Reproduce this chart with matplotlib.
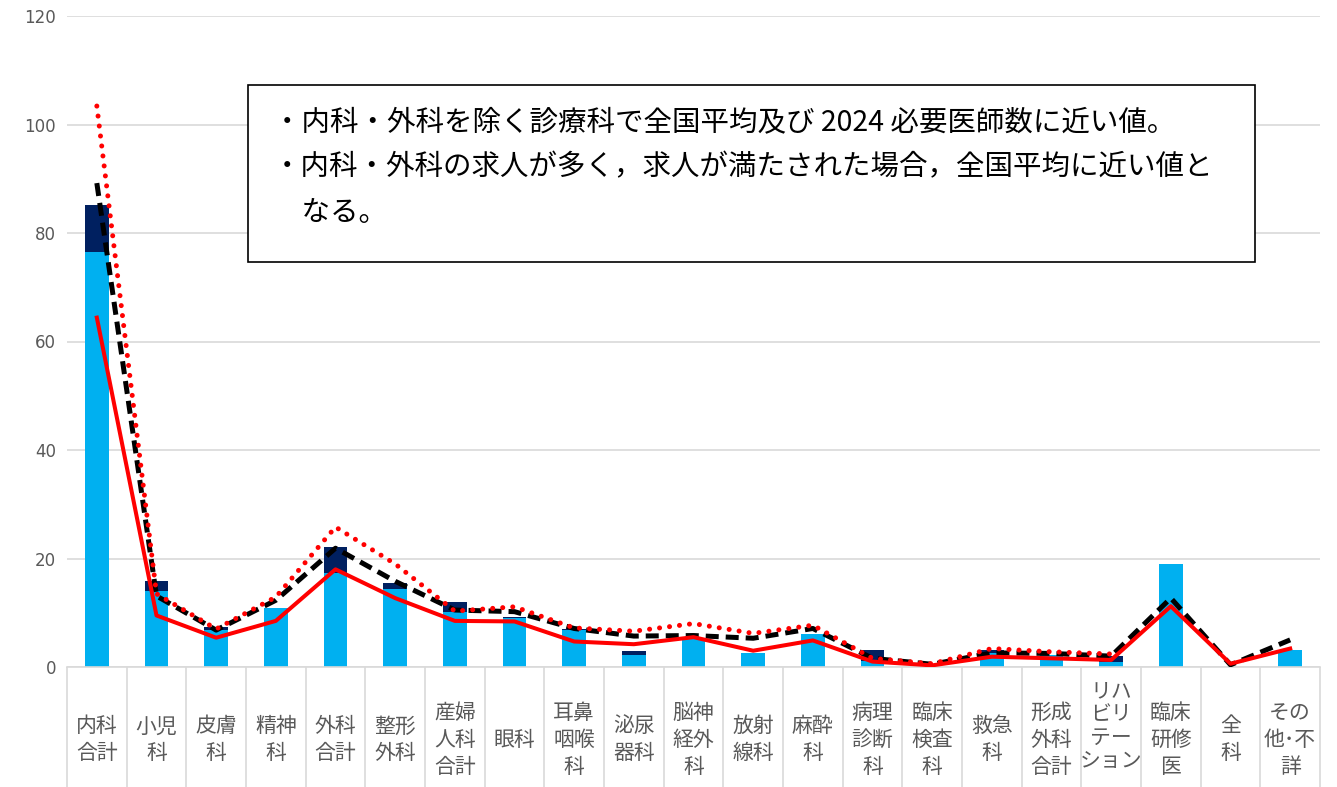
import numpy as np
import matplotlib
matplotlib.use("Agg")
import matplotlib.pyplot as plt
from matplotlib.patches import Rectangle

plt.rcParams['font.family'] = ['Noto Sans CJK JP', 'DejaVu Sans']

categories = ["内科\n合計", "小児\n科", "皮膚\n科", "精神\n科", "外科\n合計", "整形\n外科",
              "産婦\n人科\n合計", "眼科", "耳鼻\n咽喉\n科", "泌尿\n器科", "脳神\n経外\n科",
              "放射\n線科", "麻酔\n科", "病理\n診断\n科", "臨床\n検査\n科", "救急\n科",
              "形成\n外科\n合計", "リハ\nビリ\nテー\nション", "臨床\n研修\n医", "全\n科", "その\n他･不\n詳"]

bar_light = [76.5, 14.0, 6.9, 10.9, 17.4, 14.3, 10.2, 9.0, 6.9, 2.3, 5.1,
             2.6, 6.1, 1.1, 0.0, 2.6, 2.2, 1.0, 19.0, 0.0, 3.1]
bar_dark = [8.7, 1.9, 0.4, 0.0, 4.8, 1.1, 1.7, 0.3, 0.1, 0.7, 0.0,
            0.0, 0.0, 2.0, 0.0, 0.6, 0.0, 1.0, 0.0, 0.0, 0.0]
line_solid = [64.4, 9.5, 5.4, 8.5, 18.0, 12.7, 8.5, 8.4, 4.7, 4.2, 5.5,
              3.0, 4.9, 1.0, 0.3, 1.9, 1.6, 1.3, 11.2, 0.6, 3.4]
line_dashed = [89.2, 13.1, 6.8, 12.3, 21.9, 15.8, 10.5, 10.2, 7.1, 5.7, 5.8,
               5.3, 7.1, 1.6, 0.5, 2.6, 2.5, 2.0, 12.7, 0.4, 5.0]
line_dotted = [103.4, 13.5, 7.0, 12.9, 25.8, 19.0, 10.3, 11.1, 7.2, 6.6, 8.0,
               6.2, 7.7, 1.6, 0.6, 3.4, 2.8, 2.4, np.nan, np.nan, np.nan]

yticks = [0, 20, 40, 60, 80, 100, 120]

note_lines = ["・内科・外科を除く診療科で全国平均及び 2024 必要医師数に近い値。",
              "・内科・外科の求人が多く，求人が満たされた場合，全国平均に近い値と",
              "　なる。"]

fig = plt.figure(figsize=(13.37, 7.87), dpi=100)
ax = fig.add_axes([67/1337, 1-667/787, (1320-67)/1337, (667-16)/787])

x = np.arange(len(categories))
gray = "#595959"
grid_c = "#D9D9D9"

ax.bar(x, bar_light, width=0.4, color="#00B0F0", zorder=2)
ax.bar(x, bar_dark, width=0.4, bottom=bar_light, color="#002060", zorder=2)

ax.plot(x, line_dashed, color="black", lw=3.6, linestyle=(0, (2.6, 1.4)), zorder=3)
ax.plot(x, line_dotted, color="#FF0000", lw=3.6, linestyle=(0, (0.01, 2.0)),
        dash_capstyle='round', zorder=4)
ax.plot(x, line_solid, color="#FF0000", lw=2.9, zorder=5)

ax.set_xlim(-0.5, len(categories) - 0.5)
ax.set_ylim(0, 120)
ax.set_yticks(yticks)
ax.set_yticklabels([str(v) for v in yticks], color=gray, fontsize=12,
                   family=['DejaVu Sans'])
ax.tick_params(axis='y', length=0, pad=8)
ax.set_xticks([])
ax.yaxis.grid(True, color=grid_c, lw=1.2, zorder=0)
ax.set_axisbelow(True)
for s in ['top', 'right', 'left']:
    ax.spines[s].set_visible(False)
ax.spines['bottom'].set_color(grid_c)
ax.spines['bottom'].set_linewidth(1.2)

# category table separators
trans = ax.get_xaxis_transform()
bounds = np.arange(len(categories) + 1) - 0.5
ax.vlines(bounds, -0.19, 0, transform=trans, colors=grid_c, lw=1.2, clip_on=False)
for xi, lab in zip(x, categories):
    n = lab.count("\n") + 1
    if n >= 4:
        ax.text(xi, -(726 - 667) / 651, lab, transform=trans, ha='center', va='center',
                fontsize=15, color=gray, linespacing=1.08)
    else:
        ax.text(xi, -0.112, lab, transform=trans, ha='center', va='center',
                fontsize=15, color=gray, linespacing=1.3)

# note box
fig.patches.append(Rectangle((248/1337, 1-262/787), 1007/1337, 177/787,
                             transform=fig.transFigure, facecolor='white',
                             edgecolor='black', lw=1.2, zorder=10))
ys = [122, 167, 213]
for yy, t in zip(ys, note_lines):
    fig.text(273/1337, 1-yy/787, t, ha='left', va='center', fontsize=20.5,
             color='black', zorder=11)

fig.savefig("out.png", dpi=100)
